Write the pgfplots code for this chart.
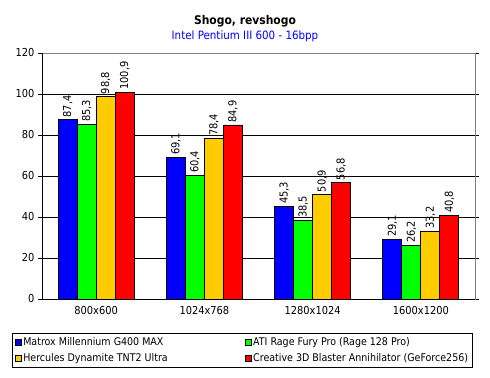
\documentclass[border=0pt]{standalone}
\usepackage{pgfplots}
\pgfplotsset{compat=1.18}
\usepackage{fontspec}
\setmainfont{DejaVu Sans Condensed}
\definecolor{cblue}{RGB}{0,0,255}
\definecolor{cgreen}{RGB}{0,255,0}
\definecolor{cyellow}{RGB}{255,204,0}
\definecolor{cred}{RGB}{255,0,0}
\definecolor{gborder}{RGB}{128,128,128}
\begin{document}
\begin{tikzpicture}[x=1bp,y=1bp]
\path[use as bounding box] (0,0) rectangle (490,377);
\node[font=\fontsize{12}{14}\selectfont\bfseries] at (245,356) {Shogo, revshogo};
\node[font=\fontsize{11.5}{13}\selectfont, text=cblue] at (245,341) {Intel Pentium III 600 - 16bpp};
\begin{axis}[
  at={(42bp,78bp)}, anchor=south west,
  width=433bp, height=246bp, scale only axis,
  font=\fontsize{11}{13}\selectfont,
  ybar=0pt, bar width=19bp,
  xmin=-0.5, xmax=3.5, ymin=0, ymax=120,
  ytick={0,20,...,120},
  xtick={0,1,2,3},
  xticklabels={800x600,1024x768,1280x1024,1600x1200},
  xtick style={draw=none},
  extra x ticks={-0.5,0.5,1.5,2.5,3.5},
  extra x tick labels={},
  extra x tick style={tick style={draw=black}, grid=none, major tick length=4bp, tick align=outside},
  ytick style={draw=black},
  tick align=outside, major tick length=4bp,
  ymajorgrids, grid style={black, line width=0.6bp},
  axis line style={gborder, line width=0.6bp},
  /pgf/number format/assume math mode=true,
  /pgf/number format/.cd, use comma, fixed, precision=1, fixed zerofill, 1000 sep={},
  /pgfplots/.cd,
  yticklabel style={/pgf/number format/fixed zerofill=false, /pgf/number format/precision=0},
  nodes near coords,
  every node near coord/.append style={rotate=90, anchor=west, font=\fontsize{11}{13}\selectfont, inner sep=2bp},
  legend columns=2,
  legend style={at={(axis description cs:0,0)}, xshift=-30bp, yshift=-34bp, anchor=north west,
    draw=black, line width=0.6bp, font=\fontsize{10.6}{12.5}\selectfont,
    nodes={inner sep=1.5bp, anchor=west},
    /tikz/every even column/.append style={column sep=76bp},
    row sep=3bp, inner xsep=3bp, inner ysep=3bp},
  legend image code/.code={\draw[#1, draw=black, line width=0.5bp] (0bp,-2.8bp) rectangle (6bp,3.2bp);},
  every axis plot/.append style={draw=black, line width=0.8bp},
]
\addplot[fill=cblue] coordinates {(0,87.4) (1,69.1) (2,45.3) (3,29.1)};
\addplot[fill=cgreen] coordinates {(0,85.3) (1,60.4) (2,38.5) (3,26.2)};
\addplot[fill=cyellow] coordinates {(0,98.8) (1,78.4) (2,50.9) (3,33.2)};
\addplot[fill=cred] coordinates {(0,100.9) (1,84.9) (2,56.8) (3,40.8)};
\legend{Matrox Millennium G400 MAX, ATI Rage Fury Pro (Rage 128 Pro), Hercules Dynamite TNT2 Ultra, Creative 3D Blaster Annihilator (GeForce256)}
\draw[black, line width=0.6bp] (rel axis cs:0,1) -- (rel axis cs:0,0) -- (rel axis cs:1,0);
\end{axis}
\end{tikzpicture}
\end{document}
